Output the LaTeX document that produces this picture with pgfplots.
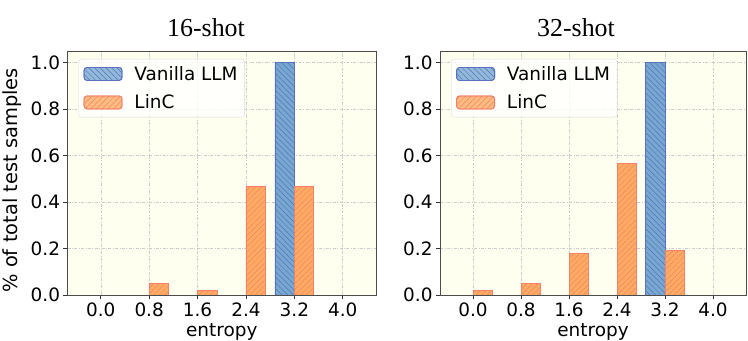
\documentclass[border=0pt]{standalone}
\usepackage{fontspec}
\setmainfont{DejaVu Sans}
\newfontfamily\titlefont{Liberation Serif}
\usepackage{pgfplots}
\pgfplotsset{compat=1.18}
\usetikzlibrary{patterns.meta}

\definecolor{bgc}{RGB}{255,255,240}
\definecolor{bluefill}{RGB}{118,168,208}
\definecolor{blueedge}{RGB}{90,112,192}
\definecolor{orangefill}{RGB}{255,172,98}
\definecolor{orangeedge}{RGB}{244,128,106}

\pgfplotsset{
  hist/.style={
    scale only axis, height=244bp,
    xmin=-0.55, xmax=4.55, ymin=0, ymax=1.05,
    xtick={0,0.8,1.6,2.4,3.2,4.0},
    xticklabels={0.0,0.8,1.6,2.4,3.2,4.0},
    ytick={0,0.2,0.4,0.6,0.8,1.0},
    yticklabels={0.0,0.2,0.4,0.6,0.8,1.0},
    tick pos=left, tick align=outside, major tick length=4bp,
    tick style={black!80, line width=0.8bp},
    axis line style={black!70, line width=0.8bp},
    axis background/.style={fill=bgc},
    grid=major,
    major grid style={gray!40, line width=0.5bp, dash pattern=on 3bp off 1.5bp on 0.8bp off 1.5bp},
    ticklabel style={font=\fontsize{18.5}{20}\selectfont},
    label style={font=\fontsize{18.5}{20}\selectfont},
    xlabel={entropy},
    xlabel style={at={(axis description cs:0.5,-0.17)}, anchor=base},
    legend cell align=left,
    legend style={at={(0,1)}, anchor=north west, xshift=11bp, yshift=-8bp,
      draw=gray!30, rounded corners=3bp, fill=white, fill opacity=0.8, text opacity=1,
      font=\fontsize{18.5}{20}\selectfont, inner xsep=5bp, inner ysep=5bp, row sep=9bp,
      /tikz/every odd column/.append style={column sep=10bp}},
    legend image code/.code={\draw[##1] (0bp,-6.5bp) rectangle (38bp,6.5bp);},
  },
  vanilla/.style={ybar, bar width=0.32, bar shift=-0.16, fill=bluefill, draw=blueedge, line width=0.8bp,
    postaction={pattern={Lines[angle=-45,distance=4bp,line width=0.5bp]}, pattern color=blueedge}},
  linc/.style={ybar, bar width=0.32, bar shift=0.16, fill=orangefill, draw=orangeedge, line width=0.8bp,
    postaction={pattern={Lines[angle=45,distance=4bp,line width=0.5bp]}, pattern color=orangeedge}},
}

\begin{document}
\begin{tikzpicture}
\useasboundingbox (0,0) rectangle (748bp,341bp);

\begin{axis}[hist, at={(67.5bp,46bp)}, anchor=south west, width=308.5bp,
  ylabel={\% of total test samples},
  ylabel style={at={(axis description cs:-0.18,0.47)}, anchor=center, font=\fontsize{19.5}{22}\selectfont}]
  \addplot[vanilla] coordinates {(0,0) (0.8,0) (1.6,0) (2.4,0) (3.2,1.0) (4.0,0)};
  \addplot[linc] coordinates {(0,0) (0.8,0.05) (1.6,0.02) (2.4,0.466) (3.2,0.466) (4.0,0)};
  \legend{Vanilla LLM,LinC}
\end{axis}

\begin{axis}[hist, at={(440bp,46bp)}, anchor=south west, width=306bp]
  \addplot[vanilla] coordinates {(0,0) (0.8,0) (1.6,0) (2.4,0) (3.2,1.0) (4.0,0)};
  \addplot[linc] coordinates {(0,0.02) (0.8,0.05) (1.6,0.178) (2.4,0.565) (3.2,0.19) (4.0,0)};
  \legend{Vanilla LLM,LinC}
\end{axis}

\node[anchor=base] at (206bp,304bp) {\titlefont\fontsize{26}{30}\selectfont 16-shot};
\node[anchor=base] at (576bp,304bp) {\titlefont\fontsize{26}{30}\selectfont 32-shot};
\end{tikzpicture}
\end{document}
